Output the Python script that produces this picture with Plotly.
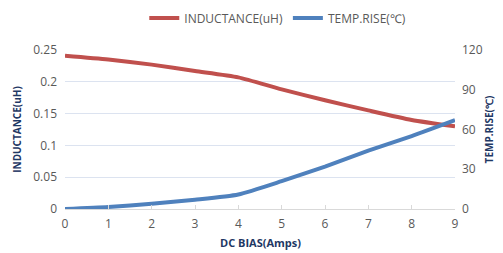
import plotly.graph_objects as go

dc_bias = [0, 1, 2, 3, 4, 5, 6, 7, 8, 9]
inductance = [0.241, 0.235, 0.227, 0.217, 0.207, 0.188, 0.171, 0.155, 0.140, 0.130]
temp_rise = [0, 1.5, 4, 7, 11, 21, 32, 44, 55, 67]

y1_ticks = [0, 0.05, 0.1, 0.15, 0.2, 0.25]
y1_labels = ["0", "0.05", "0.1", "0.15", "0.2", "0.25"]
y2_ticks = [0, 30, 60, 90, 120]

font_fam = "Open Sans"
tick_col = "#595959"
title_col = "#1F3864"
grid_col = "#DCE3F0"

fig = go.Figure()
fig.add_trace(go.Scatter(x=dc_bias, y=inductance, name="INDUCTANCE(uH)", mode="lines",
                         line=dict(color="#C0504D", width=4, shape="spline", smoothing=0.6)))
fig.add_trace(go.Scatter(x=dc_bias, y=temp_rise, name="TEMP.RISE(℃)", mode="lines", yaxis="y2",
                         line=dict(color="#4F81BD", width=4, shape="spline", smoothing=0.6)))

# page body has an 8px margin, so the figure is drawn 8px in from the top-left
fig.update_layout(
    width=495, height=253,
    margin=dict(l=57, r=48, t=42, b=52),
    paper_bgcolor="white", plot_bgcolor="white",
    font=dict(family=font_fam, size=12, color=tick_col),
    showlegend=True,
    legend=dict(orientation="h", xref="container", x=0.545, xanchor="center",
                yref="container", y=1 - 10 / 253, yanchor="middle",
                font=dict(size=12, color=tick_col)),
    xaxis=dict(range=[0, 9], tickvals=dc_bias, showgrid=False, showline=True,
               linecolor="#D9D9D9", ticks="inside", ticklen=4, tickcolor="#D9D9D9",
               zeroline=False, automargin=False, ticklabelstandoff=4,
               tickfont=dict(size=12, color=tick_col)),
    yaxis=dict(range=[0, 0.25], tickvals=y1_ticks, ticktext=y1_labels, showgrid=True,
               gridcolor=grid_col, zeroline=False, showline=False, automargin=False,
               ticklabelstandoff=7,
               title=dict(text="<b>INDUCTANCE(uH)</b>", font=dict(size=10, color=title_col), standoff=9),
               tickfont=dict(size=12, color=tick_col)),
    yaxis2=dict(range=[0, 120], tickvals=y2_ticks, overlaying="y", side="right", showgrid=False,
                zeroline=False, showline=False, automargin=False, ticklabelstandoff=6,
                title=dict(text="<b>TEMP.RISE(℃)</b>", font=dict(size=10, color=title_col), standoff=4),
                tickfont=dict(size=12, color=tick_col)),
    annotations=[dict(text="<b>DC BIAS(Amps)</b>", xref="paper", yref="paper", x=0.5, y=-0.21,
                      xanchor="center", yanchor="middle", showarrow=False,
                      font=dict(size=11, color=title_col))],
)
fig.write_html("out.html")
